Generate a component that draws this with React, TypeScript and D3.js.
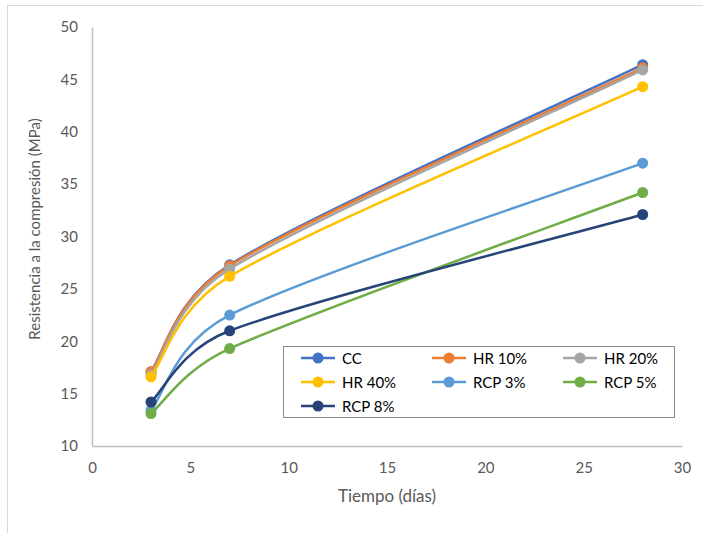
import React, { useRef, useEffect } from 'react';
import * as d3 from 'd3';

const days = [3, 7, 28];
const seriesNames = ['CC', 'HR 10%', 'HR 20%', 'HR 40%', 'RCP 3%', 'RCP 5%', 'RCP 8%'];
const cc = [17.1, 27.3, 46.4];
const hr10 = [17.1, 27.2, 46.1];
const hr20 = [16.8, 26.9, 45.9];
const hr40 = [16.6, 26.2, 44.3];
const rcp3 = [13.4, 22.5, 37.0];
const rcp5 = [13.1, 19.3, 34.2];
const rcp8 = [14.2, 21.0, 32.1];
const colors = ['#4472C4', '#ED7D31', '#A5A5A5', '#FFC000', '#5B9BD5', '#70AD47', '#264478'];
const xTicks = [0, 5, 10, 15, 20, 25, 30];
const yTicks = [10, 15, 20, 25, 30, 35, 40, 45, 50];

const W = 703;
const H = 533;
const FONT = 'Lato, Calibri, sans-serif';

// Excel-style smoothed line: bezier control points at 1/6 of the neighbour chord,
// capped to half the segment length
const excelSmooth = (pts: [number, number][]) => {
  const p = d3.path();
  const dist = (a: [number, number], b: [number, number]) => Math.hypot(b[0] - a[0], b[1] - a[1]);
  p.moveTo(pts[0][0], pts[0][1]);
  for (let i = 0; i < pts.length - 1; i++) {
    const p0 = pts[i - 1] || pts[i];
    const p1 = pts[i];
    const p2 = pts[i + 1];
    const p3 = pts[i + 2] || pts[i + 1];
    const d02 = dist(p0, p2);
    const d12 = dist(p1, p2);
    const d13 = dist(p1, p3);
    let f1 = 1 / 6;
    let f2 = 1 / 6;
    if (d02 / 6 > d12 / 2) f1 = d12 / (2 * d02);
    if (d13 / 6 > d12 / 2) f2 = d12 / (2 * d13);
    p.bezierCurveTo(
      p1[0] + (p2[0] - p0[0]) * f1, p1[1] + (p2[1] - p0[1]) * f1,
      p2[0] - (p3[0] - p1[0]) * f2, p2[1] - (p3[1] - p1[1]) * f2,
      p2[0], p2[1]
    );
  }
  return p.toString();
};

const App = () => {
  const ref = useRef<SVGSVGElement>(null);

  useEffect(() => {
    const values = [cc, hr10, hr20, hr40, rcp3, rcp5, rcp8];
    const series = seriesNames.map((name, i) => ({
      name,
      color: colors[i],
      points: days.map((d, j) => ({ x: d, y: values[i][j] })),
    }));

    const margin = { top: 27, right: 21, bottom: 87, left: 92 };

    const x = d3.scaleLinear().domain([0, 30]).range([margin.left, W - margin.right]);
    const y = d3.scaleLinear().domain([10, 50]).range([H - margin.bottom, margin.top]);

    const svg = d3.select(ref.current);
    svg.selectAll('*').remove();

    // chart area border (only top/left visible in the frame)
    svg.append('rect')
      .attr('x', 7.5).attr('y', 5.5)
      .attr('width', 740).attr('height', 560)
      .attr('fill', 'white')
      .attr('stroke', '#d9d9d9');

    // axes
    const xAxis = svg.append('g')
      .attr('transform', `translate(0,${y(10)})`)
      .call(d3.axisBottom(x).tickValues(xTicks).tickSize(0).tickPadding(16));
    const yAxis = svg.append('g')
      .attr('transform', `translate(${x(0)},0)`)
      .call(d3.axisLeft(y).tickValues(yTicks).tickSize(0).tickPadding(14));

    [xAxis, yAxis].forEach(g => {
      g.select('.domain').attr('stroke', '#bfbfbf').attr('stroke-width', 1.5);
      g.selectAll('text')
        .attr('fill', '#595959')
        .attr('font-family', FONT)
        .attr('font-size', 15);
    });

    // axis titles
    svg.append('text')
      .attr('x', (x(0) + x(30)) / 2)
      .attr('y', 502)
      .attr('text-anchor', 'middle')
      .attr('fill', '#595959')
      .attr('font-family', FONT)
      .attr('font-size', 17)
      .text('Tiempo (días)');

    svg.append('text')
      .attr('transform', `translate(40,229) rotate(-90)`)
      .attr('text-anchor', 'middle')
      .attr('fill', '#595959')
      .attr('font-family', FONT)
      .attr('font-size', 15)
      .text('Resistencia a la compresión (MPa)');

    series.forEach(s => {
      const g = svg.append('g');
      g.append('path')
        .attr('d', excelSmooth(s.points.map(d => [x(d.x), y(d.y)] as [number, number])))
        .attr('fill', 'none')
        .attr('stroke', s.color)
        .attr('stroke-width', 2.5);
      g.selectAll('circle')
        .data(s.points)
        .join('circle')
        .attr('cx', d => x(d.x))
        .attr('cy', d => y(d.y))
        .attr('r', 5.5)
        .attr('fill', s.color);
    });

    // legend
    const legend = svg.append('g').attr('transform', 'translate(283,346)');
    legend.append('rect')
      .attr('x', 0.5).attr('y', 0.5)
      .attr('width', 391).attr('height', 71)
      .attr('fill', 'white')
      .attr('stroke', '#8c8c8c');

    series.forEach((s, i) => {
      const col = i % 3;
      const row = Math.floor(i / 3);
      const item = legend.append('g')
        .attr('transform', `translate(${18 + col * 131},${12 + row * 24})`);
      item.append('line')
        .attr('x1', 0).attr('x2', 34)
        .attr('stroke', s.color)
        .attr('stroke-width', 2.5);
      item.append('circle')
        .attr('cx', 17)
        .attr('r', 5.5)
        .attr('fill', s.color);
      item.append('text')
        .attr('x', 41)
        .attr('y', 5.5)
        .attr('fill', '#000')
        .attr('font-family', FONT)
        .attr('font-size', 15)
        .text(s.name);
    });
  }, []);

  return (
    <svg
      ref={ref}
      width={W}
      height={H}
      style={{ position: 'absolute', left: 0, top: 0 }}
    />
  );
};

export default App;
